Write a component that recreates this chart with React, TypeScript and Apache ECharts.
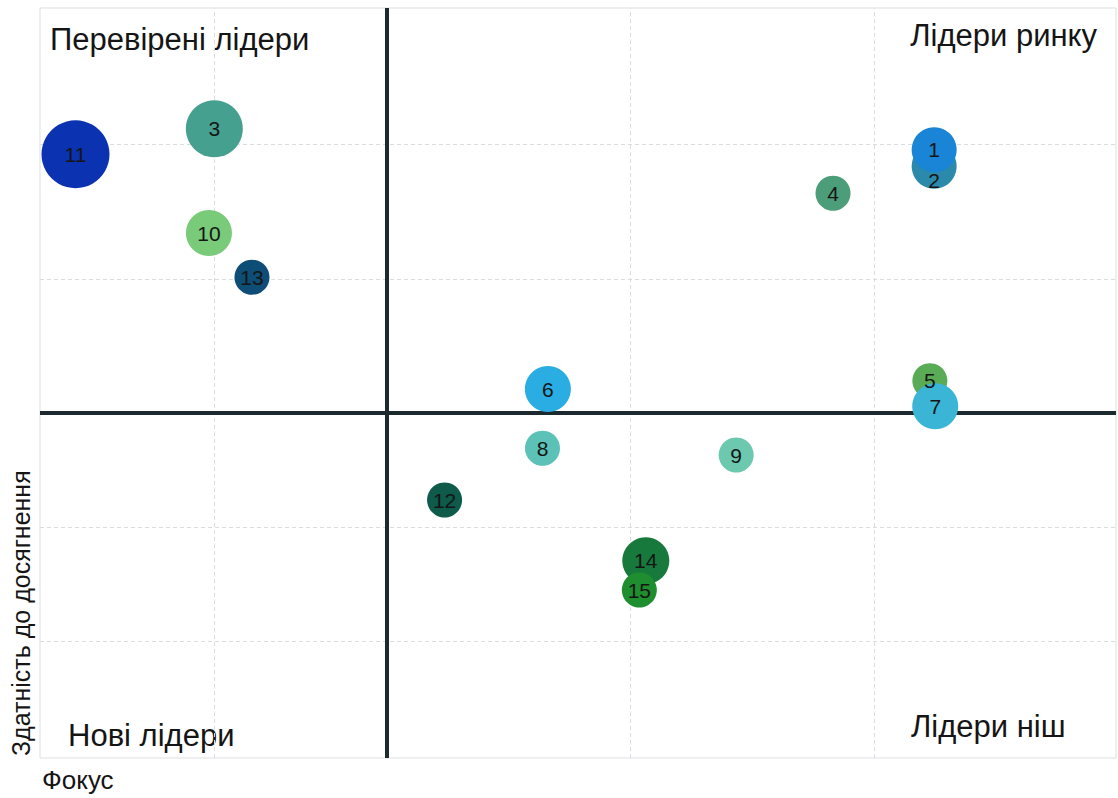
import React, { useEffect, useRef } from "react";
import * as echarts from "echarts";

// Bubble data (listed in drawing order)
const ids = ["2", "1", "3", "4", "5", "7", "6", "8", "9", "10", "11", "12", "13", "14", "15"];
const focus = [83.1, 83.1, 16.2, 73.7, 82.7, 83.2, 47.2, 46.7, 64.7, 15.7, 3.3, 37.6, 19.7, 56.3, 55.7];
const ability = [78.9, 81.1, 83.9, 75.3, 50.3, 46.9, 49.2, 41.3, 40.4, 70.0, 80.5, 34.4, 64.1, 26.3, 22.4];
const sizes = [45, 45, 57, 35, 35, 46, 46, 35, 35, 46, 68, 35, 35, 47, 35];
const colors = [
  "#2b8aab", "#1a84d6", "#46a08f", "#4c9d7a", "#5aab55", "#3ab5d6", "#29ade3", "#5cc2b8",
  "#6cc9b0", "#79ca79", "#0b32b0", "#0e5a4b", "#0d4d76", "#177a3c", "#1e8e2e",
];

// Grid lines and quadrant dividers (axis values)
const xGridLines = [16.2, 54.9, 77.5];
const yGridLines = [15.6, 30.8, 63.9, 81.9];
const xDivider = 32.2;
const yDivider = 46;

// Texts
const quadrantLabels = ["Перевірені лідери", "Лідери ринку", "Нові лідери", "Лідери ніш"];
const xAxisName = "Фокус";
const yAxisName = "Здатність до досягнення";

export default function App() {
  const ref = useRef<HTMLDivElement>(null);
  useEffect(() => {
    if (!ref.current) return;
    const chart = echarts.init(ref.current, null, { renderer: "svg" });
    const font = "'Liberation Sans', Arial, sans-serif";
    const data = ids.map((id, i) => ({
      name: id,
      value: [focus[i], ability[i], sizes[i]],
      itemStyle: { color: colors[i], opacity: 1 },
      label: id === "2" ? { offset: [0, 14] } : undefined,
    }));
    const gridLine = { color: "#d9dde0", width: 1, type: [4, 3] as any };
    const divider = { color: "#1c2a30", width: 4, type: "solid" as any };
    const qStyle = { fontSize: 31, fontFamily: font, fill: "#151515" };
    chart.setOption({
      animation: false,
      backgroundColor: "#ffffff",
      grid: {
        left: 40, right: 2, top: 8, bottom: 40,
        show: true, borderColor: "#dcdfe2", borderWidth: 1, backgroundColor: "transparent",
      },
      xAxis: {
        type: "value", min: 0, max: 100,
        axisLine: { show: false }, axisTick: { show: false }, axisLabel: { show: false },
        splitLine: { show: false },
      },
      yAxis: {
        type: "value", min: 0, max: 100,
        axisLine: { show: false }, axisTick: { show: false }, axisLabel: { show: false },
        splitLine: { show: false },
      },
      series: [
        {
          type: "scatter",
          z: 1,
          silent: true,
          data: [],
          markLine: {
            z: 1,
            silent: true,
            symbol: ["none", "none"],
            label: { show: false },
            data: [
              ...xGridLines.map((v) => ({ xAxis: v, lineStyle: gridLine })),
              ...yGridLines.map((v) => ({ yAxis: v, lineStyle: gridLine })),
            ],
          },
        },
        {
          type: "scatter",
          z: 2,
          silent: true,
          data: [],
          markLine: {
            z: 2,
            silent: true,
            symbol: ["none", "none"],
            label: { show: false },
            data: [
              { xAxis: xDivider, lineStyle: divider },
              { yAxis: yDivider, lineStyle: divider },
            ],
          },
        },
        {
          type: "scatter",
          z: 10,
          symbolSize: (v: number[]) => v[2],
          data,
          label: {
            show: true,
            position: "inside",
            formatter: "{b}",
            color: "#151515",
            fontSize: 21,
            fontFamily: font,
          },
          emphasis: { disabled: true },
        },
      ],
      graphic: [
        { type: "text", left: 50, top: 24, style: { text: quadrantLabels[0], ...qStyle } },
        { type: "text", right: 21, top: 20, style: { text: quadrantLabels[1], ...qStyle } },
        { type: "text", left: 68, top: 720, style: { text: quadrantLabels[2], ...qStyle } },
        { type: "text", left: 911, top: 711, style: { text: quadrantLabels[3], ...qStyle } },
        { type: "text", left: 42, top: 767, style: { text: xAxisName, fontSize: 26, fontFamily: font, fill: "#151515" } },
        {
          type: "text", x: 21, y: 756, rotation: Math.PI / 2,
          style: { text: yAxisName, fontSize: 25, fontFamily: font, fill: "#151515", textAlign: "left", textVerticalAlign: "middle" },
        },
      ],
    });
    return () => chart.dispose();
  }, []);
  return (
    <div
      ref={ref}
      style={{ position: "fixed", left: 0, top: 0, width: 1118, height: 798, background: "#fff" }}
    />
  );
}
